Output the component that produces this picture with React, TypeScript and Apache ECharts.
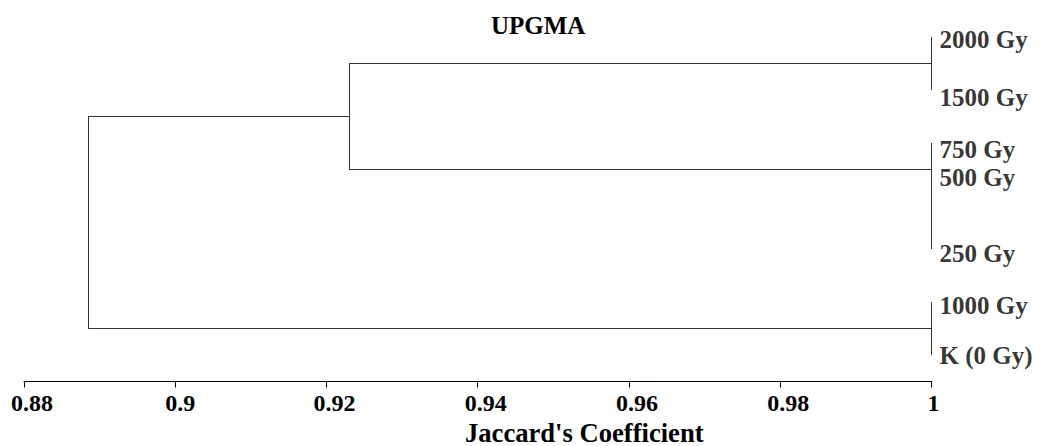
import React, { useEffect, useRef } from "react";
import * as echarts from "echarts";

// Leaves (top to bottom) and their positions on the hidden vertical axis
const leafNames = ["2000 Gy", "1500 Gy", "750 Gy", "500 Gy", "250 Gy", "1000 Gy", "K (0 Gy)"];
const leafPos = [0, 1, 2, 3, 4, 5, 6];
const labelPos = [0.05, 1.15, 2.12, 2.65, 4.08, 5.07, 6.0];

// Merge nodes: similarity level, vertical span, node position, parent index
const mergeSim = [1, 1, 1, 0.923, 0.8885];
const mergeSpan: [number, number][] = [
  [0, 1],
  [2, 4],
  [5, 6],
  [0.5, 2.5],
  [1.5, 5.5],
];
const mergeNodePos = [0.5, 2.5, 5.5, 1.5, 3.5];
const mergeParent = [3, 3, 4, 4, -1];

const xTicks = { min: 0.88, max: 1, interval: 0.02 };

const FONT = "'Liberation Serif', 'Times New Roman', serif";

export default function App() {
  const ref = useRef<HTMLDivElement>(null);
  useEffect(() => {
    if (!ref.current) return;
    const chart = echarts.init(ref.current, undefined, { renderer: "svg" });

    const segments: { coords: number[][] }[] = [];
    mergeSim.forEach((s, i) => {
      const [a, b] = mergeSpan[i];
      segments.push({ coords: [[s, a], [s, b]] });
      const p = mergeParent[i];
      if (p >= 0) {
        segments.push({ coords: [[s, mergeNodePos[i]], [mergeSim[p], mergeNodePos[i]]] });
      }
    });

    const tickText = { fontFamily: FONT, fontWeight: "bold" as const, fontSize: 24, color: "#000" };

    chart.setOption({
      animation: false,
      backgroundColor: "#ffffff",
      title: {
        text: "UPGMA",
        left: 491,
        top: 13,
        padding: 0,
        textStyle: { fontFamily: FONT, fontWeight: "bold", fontSize: 25, color: "#000" },
      },
      grid: { left: 24, right: 108.5, top: 10.5, bottom: 64.5 },
      xAxis: {
        type: "value",
        min: xTicks.min,
        max: xTicks.max,
        interval: xTicks.interval,
        splitLine: { show: false },
        axisLine: { show: true, onZero: false, lineStyle: { color: "#000", width: 1 } },
        axisTick: { show: true, inside: false, length: 6, lineStyle: { color: "#000" } },
        axisLabel: {
          margin: 9,
          ...tickText,
          formatter: (v: number) => {
            const s = String(Number(v.toFixed(2)));
            const k = s.length >= 4 ? "a" : s.length >= 3 ? "b" : "c";
            return `{${k}|${s}}`;
          },
          rich: {
            a: { ...tickText, padding: [0, 0, 0, 16] },
            b: { ...tickText, padding: [0, 0, 0, 10] },
            c: { ...tickText, padding: [0, 0, 0, 4] },
          },
        },
      },
      yAxis: {
        type: "value",
        inverse: true,
        min: -0.5,
        max: 6.5,
        show: false,
      },
      graphic: [
        {
          type: "text",
          left: 465,
          top: 419,
          style: {
            text: "Jaccard's Coefficient",
            fontFamily: FONT,
            fontWeight: "bold",
            fontSize: 26.6,
            fill: "#000",
          },
        },
      ],
      series: [
        {
          type: "lines",
          coordinateSystem: "cartesian2d",
          polyline: false,
          lineStyle: { color: "#333", width: 1, opacity: 1 },
          data: segments,
          silent: true,
        },
        {
          type: "scatter",
          symbolSize: 0,
          silent: true,
          data: leafNames.map((n, i) => ({ name: n, value: [1, labelPos[i]] })),
          label: {
            show: true,
            position: "right",
            distance: 8,
            formatter: (p: any) => p.name,
            fontFamily: FONT,
            fontWeight: "bold",
            fontSize: 25,
            color: "#000",
          },
        },
        {
          type: "scatter",
          symbolSize: 0,
          silent: true,
          data: leafPos.map((y) => [1, y]),
        },
      ],
    });
    return () => chart.dispose();
  }, []);
  return (
    <div
      ref={ref}
      style={{ position: "fixed", left: 0, top: 0, width: 1040, height: 446, background: "#fff" }}
    />
  );
}
